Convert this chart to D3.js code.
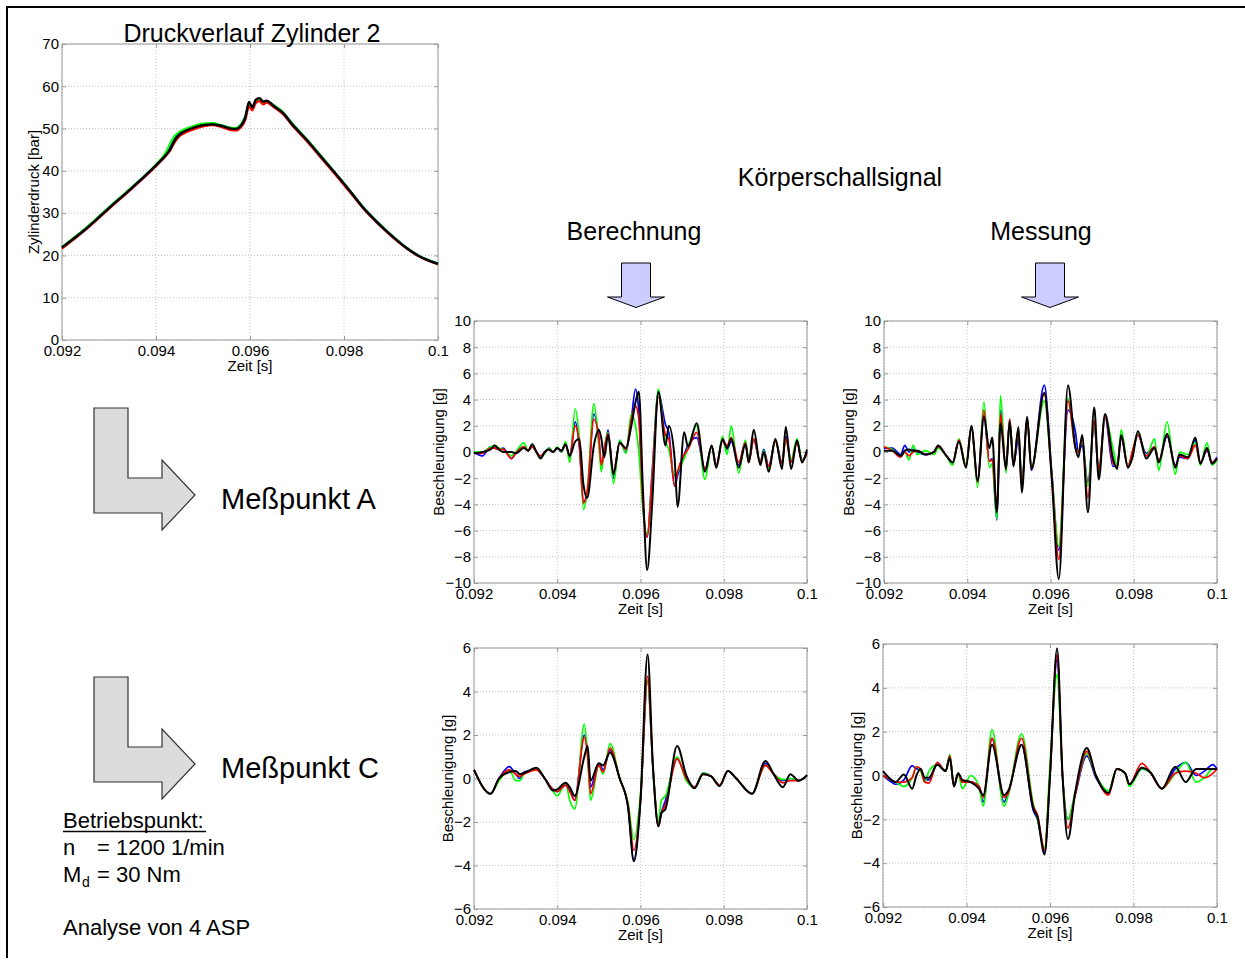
<!doctype html>
<html lang="de">
<head>
<meta charset="UTF-8">
<title>Körperschallsignal</title>
<style>
  body { margin: 0; background: #fff; }
  svg text { font-family: "Liberation Sans", Arial, sans-serif; }
</style>
</head>
<body>
<div class="container"></div>

<script src="https://d3js.org/d3.v7.min.js"></script>
<script>
  // ---- shared axis ticks ----
  const xTicks = [0.092, 0.094, 0.096, 0.098, 0.1];
  const xTickLabels = ['0.092', '0.094', '0.096', '0.098', '0.1'];
  const pTicks = [0, 10, 20, 30, 40, 50, 60, 70];
  const aTicks = [-10, -8, -6, -4, -2, 0, 2, 4, 6, 8, 10];
  const cTicks = [-6, -4, -2, 0, 2, 4, 6];

  // ---- Druckverlauf Zylinder 2 ----
  const pTime = [0.092, 0.0925, 0.093, 0.0935, 0.094, 0.0942, 0.0943, 0.0944, 0.0945, 0.0946, 0.0948, 0.095, 0.0952, 0.0954, 0.0956, 0.0957, 0.0958, 0.0959, 0.09598, 0.09605, 0.09612, 0.0962, 0.09628, 0.09635, 0.0965, 0.0967, 0.0969, 0.0972, 0.0975, 0.0978, 0.0981, 0.0984, 0.0987, 0.099, 0.0993, 0.0996, 0.1];
  const pBlue  = [21.9, 26.3, 31.3, 36.2, 41.4, 43.8, 45.6, 47.8, 48.9, 49.5, 50.4, 51.0, 51.1, 50.7, 50.1, 50.0, 50.8, 52.9, 55.8, 55.2, 56.4, 57.0, 56.2, 56.5, 55.5, 53.8, 51.1, 47.5, 43.6, 39.7, 35.7, 31.5, 28.0, 24.9, 22.1, 19.9, 18.1];
  const pGreen = [22.0, 26.4, 31.4, 36.3, 41.5, 44.2, 46.4, 48.3, 49.2, 49.8, 50.6, 51.2, 51.3, 50.8, 50.2, 50.1, 50.9, 52.8, 55.6, 55.1, 56.2, 56.8, 56.1, 56.4, 55.6, 53.9, 51.2, 47.6, 43.7, 39.7, 35.7, 31.5, 28.0, 24.9, 22.1, 19.9, 18.1];
  const pRed   = [21.6, 26.0, 31.0, 35.9, 41.1, 43.4, 44.8, 46.8, 48.2, 48.9, 49.8, 50.5, 50.8, 50.3, 49.6, 49.5, 50.2, 52.0, 55.2, 54.3, 56.0, 56.5, 55.7, 56.1, 55.1, 53.4, 50.7, 47.1, 43.2, 39.3, 35.3, 31.2, 27.7, 24.6, 21.9, 19.7, 17.9];
  const pBlack = [21.9, 26.2, 31.2, 36.1, 41.3, 43.6, 45.0, 47.2, 48.6, 49.3, 50.2, 50.8, 51.0, 50.6, 50.0, 49.9, 50.6, 52.6, 56.3, 55.0, 56.8, 57.2, 56.4, 56.6, 55.4, 53.7, 51.0, 47.4, 43.5, 39.6, 35.6, 31.4, 27.9, 24.8, 22.0, 19.8, 18.0];

  // ---- Meßpunkt A, Berechnung ----
  const abTime = [0.092, 0.0922, 0.0924, 0.0925, 0.0926, 0.0927, 0.0929, 0.093, 0.0932, 0.0933, 0.0934, 0.0935, 0.0936, 0.0937, 0.0938, 0.0939, 0.094, 0.0941, 0.0942, 0.0943,
    0.09443, 0.09453, 0.09463, 0.09472, 0.09488, 0.095, 0.09506, 0.09513, 0.09522, 0.09535,
    0.0955, 0.09565, 0.09578, 0.09588, 0.09596, 0.09606, 0.09616, 0.09628, 0.09643, 0.0966,
    0.09668, 0.09682, 0.09689, 0.09705, 0.09714, 0.09735, 0.09755, 0.09771, 0.09782, 0.09797,
    0.09808, 0.09818, 0.09836, 0.09852, 0.0986, 0.09872, 0.09888, 0.09896, 0.09908, 0.09924,
    0.0994, 0.09949, 0.09962, 0.09976, 0.09988, 0.1];
  const abBlue = [0.0, -0.3, 0.4, 0.3, 0.2, 0.3, -0.5, -0.1, 0.4, 0.1, 0.4, 0.0, -0.4, 0.0, 0.3, 0.0, 0.3, 0.0, 0.6, -0.4,
    2.3, 0.5, -3.8, -3.2, 2.9, 1.0, -0.9, -0.2, 1.7, -2.0,
    0.8, 0.0, 2.5, 4.8, 3.0, -4.0, -6.5, -1.5, 4.5, 2.1,
    1.5, -2.6, -1.8, -0.2, 0.5, 1.1, -1.3, 0.4, -1.0, 0.9,
    0.2, 0.8, -1.0, 0.8, -0.7, 0.9, -0.8, 0.2, -1.1, 0.9,
    -0.8, 1.2, -0.7, 0.8, -0.6, 0.0];
  const abGreen = [0.0, 0.0, 0.4, 0.5, 0.3, 0.2, -0.3, 0.0, 0.7, 0.1, 0.4, 0.0, -0.4, -0.1, 0.3, 0.0, 0.4, 0.0, 0.8, -0.8,
    3.3, 1.0, -4.4, -3.0, 3.7, 0.5, -1.5, 0.3, 1.5, -2.4,
    0.9, -0.1, 2.9, 2.0, 0.0, -4.5, -6.3, -2.0, 4.8, 0.8,
    0.2, -1.8, -1.5, -0.5, 0.3, 2.0, -2.1, 0.5, -1.2, 1.2,
    -0.2, 2.0, -1.6, 0.9, -0.6, 1.0, -0.9, 0.1, -1.3, 0.8,
    -0.9, 1.0, -0.6, 1.0, -0.6, -0.2];
  const abRed = [-0.1, -0.1, 0.3, 0.3, 0.2, 0.2, -0.5, -0.1, 0.4, 0.1, 0.4, 0.0, -0.3, 0.0, 0.2, 0.0, 0.3, 0.1, 0.5, -0.3,
    2.0, 0.6, -3.9, -3.0, 2.5, 1.0, -1.0, 0.2, 1.4, -1.5,
    0.7, 0.2, 2.5, 3.5, 2.5, -4.0, -6.5, -2.0, 4.2, 1.3,
    1.0, -2.6, -1.5, -0.2, 0.2, 1.5, -1.3, 0.4, -1.0, 0.8,
    0.5, 1.1, -0.8, 0.7, -0.8, 1.0, -0.8, 0.0, -1.1, 0.8,
    -0.9, 1.0, -0.8, 0.7, -0.7, -0.1];
  const abBlack = [-0.1, 0.0, 0.2, 0.5, 0.2, 0.0, 0.0, -0.1, 0.3, 0.1, 0.6, 0.0, -0.5, 0.0, 0.2, 0.0, 0.3, 0.1, 0.6, -0.3,
    0.8, 1.0, -2.5, -3.5, 0.5, 1.7, 1.0, -0.4, 1.3, -1.7,
    0.7, 0.3, 2.0, 3.8, 4.6, -3.0, -9.0, -4.0, 4.6, 0.5,
    2.0, -0.5, -4.2, 1.5, 0.4, 2.2, -1.5, 0.5, -1.2, 1.0,
    0.3, 1.0, -1.2, 0.6, -0.8, 1.7, -1.0, 0.0, -1.5, 1.0,
    -1.3, 1.9, -1.3, 0.9, -0.8, 0.2];

  // ---- Meßpunkt A, Messung ----
  const amTime = [0.092, 0.0922, 0.0924, 0.0925, 0.0926, 0.0927, 0.0928, 0.093, 0.0932, 0.0933,
    0.0935, 0.09365, 0.0938, 0.09397, 0.0941, 0.09425, 0.0944, 0.09453, 0.0946, 0.09471,
    0.0948, 0.09493, 0.09502, 0.09511, 0.09523, 0.09531, 0.09544, 0.09554, 0.09585, 0.09603,
    0.0962, 0.09642, 0.0966, 0.09667, 0.09676, 0.0969, 0.09705, 0.09716, 0.09731, 0.0975,
    0.0976, 0.0977, 0.09786, 0.09797, 0.0981, 0.0983, 0.0985, 0.0986, 0.0988, 0.099,
    0.0991, 0.0993, 0.09948, 0.0996, 0.09976, 0.09988, 0.1];
  const amBlue = [0.3, 0.3, -0.2, 0.5, 0.0, 0.2, 0.0, -0.2, 0.0, 0.4,
    -0.3, -0.8, 0.9, -1.1, 1.9, -2.2, 2.8, -0.7, -0.5, -5.2,
    3.2, -1.3, 2.5, -1.0, 1.0, -2.6, 2.6, -1.4, 5.1, -1.5,
    -7.5, 3.2, 1.5, 0.0, 0.5, -2.3, 2.0, -1.6, 2.7, -1.1,
    -1.0, 1.1, -1.1, -0.1, 1.3, -0.1, 0.4, -0.7, 1.2, -1.0,
    -0.4, -0.5, 0.9, -0.8, 0.1, -0.8, -0.4];
  const amGreen = [0.4, 0.2, -0.3, 0.0, -0.6, 0.5, -0.2, 0.1, -0.2, 0.3,
    -0.3, -1.0, 1.0, -1.0, 1.9, -2.7, 3.8, -1.2, -0.9, -5.1,
    4.3, -1.6, 2.5, -1.0, 1.8, -2.5, 2.5, -1.2, 3.9, -1.8,
    -7.2, 4.1, 0.3, 0.0, 1.0, -2.6, 2.2, -1.5, 2.7, 0.3,
    -1.0, 1.7, -1.1, 0.0, 1.4, -0.3, 1.0, -1.4, 2.3, -1.7,
    0.0, -0.2, 0.7, -1.0, 0.7, -1.0, -0.6];
  const amRed = [0.4, 0.1, -0.4, 0.0, -0.3, 0.0, 0.1, -0.2, 0.0, 0.4,
    -0.3, -0.8, 0.9, -1.1, 1.9, -2.3, 3.2, -0.7, -0.6, -4.3,
    2.9, -1.3, 2.5, -1.0, 1.7, -2.6, 2.5, -1.3, 4.5, -1.8,
    -8.2, 3.9, 0.3, 0.0, 1.0, -3.5, 2.4, -1.4, 2.8, -0.8,
    -1.1, 1.2, -1.1, 0.1, 1.3, -0.3, 0.4, -0.7, 1.3, -1.1,
    -0.3, -0.5, 0.5, -0.8, 0.2, -0.8, -0.5];
  const amBlack = [0.1, 0.1, -0.3, 0.1, 0.2, 0.1, 0.1, -0.2, 0.0, 0.5,
    -0.3, -0.8, 0.8, -1.2, 2.0, -2.2, 2.7, 0.3, 1.1, -4.6,
    2.2, -1.3, 2.3, -1.1, 1.9, -3.1, 2.7, -1.3, 4.5, -2.0,
    -9.7, 5.1, 0.3, -0.4, 1.3, -4.6, 3.4, -2.1, 2.9, -0.5,
    -1.3, 1.3, -1.2, -0.4, 1.6, -0.5, 0.3, -0.8, 1.4, -1.2,
    -0.2, -0.4, 1.1, -0.9, 0.3, -0.9, -0.5];

  // ---- Meßpunkt C, Berechnung ----
  const cbTime = [0.092, 0.0924, 0.0926, 0.09285, 0.093, 0.0931, 0.0932, 0.0935, 0.0937, 0.0939,
    0.094, 0.0942, 0.0943, 0.09442, 0.09465, 0.09473, 0.0948, 0.095, 0.0951, 0.09527,
    0.0955, 0.0957, 0.09584, 0.096, 0.09617, 0.0963, 0.09643, 0.0965, 0.0966, 0.09688,
    0.0971, 0.0973, 0.0975, 0.0977, 0.0979, 0.0981, 0.0983, 0.09868, 0.099, 0.0992,
    0.09942, 0.0996, 0.0998, 0.1];
  const cbBlue = [0.4, -0.7, 0.0, 0.55, 0.2, 0.0, 0.3, 0.4, 0.0, -0.5,
    -0.6, -0.3, -0.5, -1.0, 2.0, 1.2, -0.4, 0.7, 0.4, 1.3,
    0.0, -1.3, -3.8, -1.0, 4.5, 0.5, -2.2, -1.6, -1.0, 0.9,
    0.0, -0.4, 0.25, 0.1, -0.3, 0.35, 0.0, -0.7, 0.7, 0.2,
    -0.1, 0.0, -0.1, 0.15];
  const cbGreen = [0.4, -0.7, -0.1, 0.4, -0.1, -0.1, 0.2, 0.4, 0.0, -0.6,
    -0.8, -0.2, -1.0, -1.4, 2.5, 1.0, -1.0, 0.6, 0.2, 1.6,
    0.0, -1.1, -2.8, -0.7, 4.5, 0.5, -2.0, -1.0, -0.8, 1.0,
    -0.1, -0.4, 0.25, 0.1, -0.3, 0.35, 0.0, -0.7, 0.6, 0.2,
    -0.05, 0.0, -0.1, 0.15];
  const cbRed = [0.4, -0.7, 0.0, 0.4, 0.2, 0.1, 0.2, 0.4, 0.0, -0.5,
    -0.6, -0.3, -0.6, -1.0, 1.9, 1.0, -0.7, 0.6, 0.3, 1.4,
    0.0, -1.2, -3.3, -1.0, 4.7, 0.5, -2.2, -1.6, -1.2, 0.9,
    0.0, -0.4, 0.2, 0.1, -0.3, 0.35, 0.0, -0.7, 0.6, 0.2,
    -0.2, -0.1, -0.1, 0.15];
  const cbBlack = [0.4, -0.7, 0.0, 0.3, 0.35, 0.2, 0.25, 0.5, 0.0, -0.55,
    -0.5, -0.2, -0.4, -0.8, 1.0, 1.5, -0.1, 0.7, 0.6, 1.2,
    0.0, -1.3, -3.8, -1.0, 5.7, 0.5, -2.2, -1.6, -1.4, 1.5,
    0.15, -0.45, 0.2, 0.1, -0.35, 0.35, 0.0, -0.7, 0.8, 0.2,
    -0.4, 0.2, -0.1, 0.15];

  // ---- Meßpunkt C, Messung ----
  const cmTime = [0.092, 0.0922, 0.0923, 0.0925, 0.0927, 0.0928, 0.0929, 0.093, 0.0931, 0.0933,
    0.0935, 0.0936, 0.0937, 0.0938, 0.0939, 0.0941, 0.0943, 0.0944, 0.09461, 0.0949,
    0.095, 0.09532, 0.0956, 0.0957, 0.09587, 0.096, 0.09617, 0.0963, 0.09643, 0.0966,
    0.09688, 0.0971, 0.0974, 0.0976, 0.0978, 0.0979, 0.0982, 0.0984, 0.09868, 0.099,
    0.09925, 0.0995, 0.0997, 0.0999, 0.1];
  const cmBlue = [0.0, -0.3, -0.4, -0.2, 0.45, 0.3, 0.3, -0.2, -0.2, 0.5,
    0.2, 0.9, -0.5, 0.1, -0.3, -0.3, -0.5, -1.2, 1.7, -1.2,
    -0.8, 1.4, -1.6, -2.0, -3.5, 0.0, 5.3, 0.0, -2.0, -0.9,
    0.9, -0.1, -0.8, 0.3, 0.1, -0.4, 0.3, 0.15, -0.6, 0.3,
    0.6, 0.0, 0.2, 0.5, 0.3];
  const cmGreen = [0.0, -0.2, -0.3, -0.5, -0.1, 0.4, 0.2, -0.3, 0.2, 0.5,
    0.2, 0.95, -0.5, 0.1, -0.6, 0.0, -0.5, -1.4, 2.1, -1.4,
    -0.9, 1.9, -1.3, -2.0, -3.3, 0.5, 4.6, 0.0, -2.0, -0.8,
    1.0, 0.0, -0.7, 0.3, 0.1, -0.5, 0.3, 0.15, -0.6, 0.1,
    0.6, -0.3, -0.1, 0.3, 0.3];
  const cmRed = [0.0, -0.2, -0.3, -0.3, -0.1, 0.4, 0.3, -0.3, -0.35, 0.6,
    0.2, 0.9, -0.5, 0.1, -0.3, -0.3, -0.5, -1.0, 1.7, -1.0,
    -0.8, 1.7, -1.4, -1.8, -3.4, 0.0, 5.5, 0.0, -2.4, -0.9,
    1.1, 0.0, -0.9, 0.3, 0.1, -0.4, 0.55, 0.15, -0.6, 0.1,
    0.2, 0.1, -0.1, 0.1, 0.3];
  const cmBlack = [0.2, -0.2, -0.3, 0.05, -0.6, 0.0, 0.3, -0.1, -0.1, 0.5,
    0.2, 0.8, -0.5, 0.1, -0.2, -0.3, -0.6, -0.9, 1.4, -0.9,
    -0.7, 1.4, -1.5, -1.9, -3.6, 0.0, 5.8, 0.0, -2.9, -0.8,
    1.25, 0.0, -0.8, 0.3, 0.1, -0.4, 0.35, 0.15, -0.6, 0.4,
    -0.3, 0.3, 0.3, 0.3, 0.3];

  const seriesColors = ['#0000ff', '#00ff00', '#ff0000', '#000000'];

  const SVG_WIDTH = 1245;
  const SVG_HEIGHT = 963;

  const svg = d3.select('.container')
    .append('svg')
    .attr('width', SVG_WIDTH)
    .attr('height', SVG_HEIGHT);

  // slide frame (top + left edge)
  svg.append('path')
    .attr('d', 'M7,958 L7,7 L1245,7')
    .attr('fill', 'none')
    .attr('stroke', '#000')
    .attr('stroke-width', 2);

  const panels = [
    { left: 62, right: 438, top: 44, bottom: 340, yDomain: [0, 70], yTicks: pTicks, yLabel: 'Zylinderdruck [bar]', yLabelOff: 23,
      time: pTime, series: [pBlue, pGreen, pRed, pBlack], lw: 2.1 },
    { left: 474, right: 807, top: 321, bottom: 583, yDomain: [-10, 10], yTicks: aTicks, yLabel: 'Beschleunigung [g]', yLabelOff: 30,
      time: abTime, series: [abBlue, abGreen, abRed, abBlack], lw: 1.7 },
    { left: 884, right: 1217, top: 321, bottom: 583, yDomain: [-10, 10], yTicks: aTicks, yLabel: 'Beschleunigung [g]', yLabelOff: 30,
      time: amTime, series: [amBlue, amGreen, amRed, amBlack], lw: 1.7 },
    { left: 474, right: 807, top: 648, bottom: 909, yDomain: [-6, 6], yTicks: cTicks, yLabel: 'Beschleunigung [g]', yLabelOff: 21,
      time: cbTime, series: [cbBlue, cbGreen, cbRed, cbBlack], lw: 1.7 },
    { left: 883, right: 1217, top: 644, bottom: 907, yDomain: [-6, 6], yTicks: cTicks, yLabel: 'Beschleunigung [g]', yLabelOff: 21,
      time: cmTime, series: [cmBlue, cmGreen, cmRed, cmBlack], lw: 1.7 }
  ];

  const BOX = '#9a9a9a';

  function drawPanel(p) {
    const x = d3.scaleLinear().domain([0.092, 0.1]).range([p.left, p.right]);
    const y = d3.scaleLinear().domain(p.yDomain).range([p.bottom, p.top]);
    const g = svg.append('g');

    // dotted grid
    g.selectAll('.gx').data(xTicks).enter().append('line')
      .attr('x1', d => x(d)).attr('x2', d => x(d))
      .attr('y1', p.top).attr('y2', p.bottom)
      .attr('stroke', '#c4c4c4').attr('stroke-dasharray', '1,2');
    g.selectAll('.gy').data(p.yTicks).enter().append('line')
      .attr('x1', p.left).attr('x2', p.right)
      .attr('y1', d => y(d)).attr('y2', d => y(d))
      .attr('stroke', '#c4c4c4').attr('stroke-dasharray', '1,2');

    // axes with inward ticks
    const xAxis = d3.axisBottom(x).tickValues(xTicks)
      .tickFormat((d, i) => xTickLabels[i]).tickSize(-4).tickPadding(5);
    const yAxis = d3.axisLeft(y).tickValues(p.yTicks).tickSize(-4).tickPadding(3);

    const xg = g.append('g').attr('transform', `translate(0, ${p.bottom})`).call(xAxis);
    const yg = g.append('g').attr('transform', `translate(${p.left}, 0)`).call(yAxis);
    g.append('g').attr('transform', `translate(0, ${p.top})`)
      .call(d3.axisTop(x).tickValues(xTicks).tickFormat('').tickSize(-4));
    g.append('g').attr('transform', `translate(${p.right}, 0)`)
      .call(d3.axisRight(y).tickValues(p.yTicks).tickFormat('').tickSize(-4));

    g.selectAll('.domain').remove();
    g.selectAll('.tick line').attr('stroke', BOX);
    xg.selectAll('text').attr('font-size', 15);
    yg.selectAll('text').attr('font-size', 15);

    g.append('rect')
      .attr('x', p.left).attr('y', p.top)
      .attr('width', p.right - p.left).attr('height', p.bottom - p.top)
      .attr('fill', 'none').attr('stroke', BOX);

    // series: blue, green, red, black on top
    p.series.forEach((vals, k) => {
      const line = d3.line()
        .x((d, i) => x(p.time[i]))
        .y(d => y(d))
        .curve(d3.curveMonotoneX);
      g.append('path')
        .attr('d', line(vals))
        .attr('fill', 'none')
        .attr('stroke', seriesColors[k])
        .attr('stroke-width', k === 3 ? p.lw + 0.3 : p.lw)
        .attr('stroke-linejoin', 'round');
    });

    // axis labels
    g.append('text')
      .attr('x', (p.left + p.right) / 2).attr('y', p.bottom + 31)
      .attr('text-anchor', 'middle').attr('font-size', 15)
      .text('Zeit [s]');
    g.append('text')
      .attr('transform', `translate(${p.left - p.yLabelOff}, ${(p.top + p.bottom) / 2}) rotate(-90)`)
      .attr('text-anchor', 'middle').attr('font-size', 15)
      .text(p.yLabel);
  }

  panels.forEach(drawPanel);

  // ---- titles and annotations ----
  svg.append('text').attr('x', 252).attr('y', 42).attr('text-anchor', 'middle')
    .attr('font-size', 25).text('Druckverlauf Zylinder 2');
  svg.append('text').attr('x', 840).attr('y', 186).attr('text-anchor', 'middle')
    .attr('font-size', 25).text('Körperschallsignal');
  svg.append('text').attr('x', 634).attr('y', 240).attr('text-anchor', 'middle')
    .attr('font-size', 25).text('Berechnung');
  svg.append('text').attr('x', 1041).attr('y', 240).attr('text-anchor', 'middle')
    .attr('font-size', 25).text('Messung');

  // down arrows
  function downArrow(cx) {
    const pts = [[cx - 14.5, 263], [cx + 14.5, 263], [cx + 14.5, 297], [cx + 28.5, 297],
      [cx, 307.5], [cx - 28.5, 297], [cx - 14.5, 297]];
    svg.append('polygon')
      .attr('points', pts.map(q => q.join(',')).join(' '))
      .attr('fill', '#ccccff').attr('stroke', '#000').attr('stroke-width', 1);
  }
  downArrow(636);
  downArrow(1050);

  // L-shaped arrows
  function lArrow(x0, y0) {
    const pts = [[0, 0], [34, 0], [34, 70], [68, 70], [68, 52], [101, 87], [68, 122], [68, 105], [0, 105]];
    svg.append('polygon')
      .attr('points', pts.map(q => (x0 + q[0]) + ',' + (y0 + q[1])).join(' '))
      .attr('fill', '#dcdcdc').attr('stroke', '#333').attr('stroke-width', 1.2);
  }
  lArrow(94, 408);
  lArrow(94, 677);

  svg.append('text').attr('x', 221).attr('y', 509).attr('font-size', 29).text('Meßpunkt A');
  svg.append('text').attr('x', 221).attr('y', 778).attr('font-size', 29).text('Meßpunkt C');

  // operating point block
  svg.append('text').attr('x', 63).attr('y', 828).attr('font-size', 22).text('Betriebspunkt:');
  svg.append('line').attr('x1', 63).attr('x2', 206).attr('y1', 831.5).attr('y2', 831.5)
    .attr('stroke', '#000').attr('stroke-width', 1.5);
  svg.append('text').attr('x', 63).attr('y', 855).attr('font-size', 22).text('n');
  svg.append('text').attr('x', 97).attr('y', 855).attr('font-size', 22).text('= 1200 1/min');
  svg.append('text').attr('x', 63).attr('y', 882).attr('font-size', 22).text('M');
  svg.append('text').attr('x', 82).attr('y', 887).attr('font-size', 14).text('d');
  svg.append('text').attr('x', 97).attr('y', 882).attr('font-size', 22).text('= 30 Nm');
  svg.append('text').attr('x', 63).attr('y', 935).attr('font-size', 22).text('Analyse von 4 ASP');
</script>
</body>
</html>
